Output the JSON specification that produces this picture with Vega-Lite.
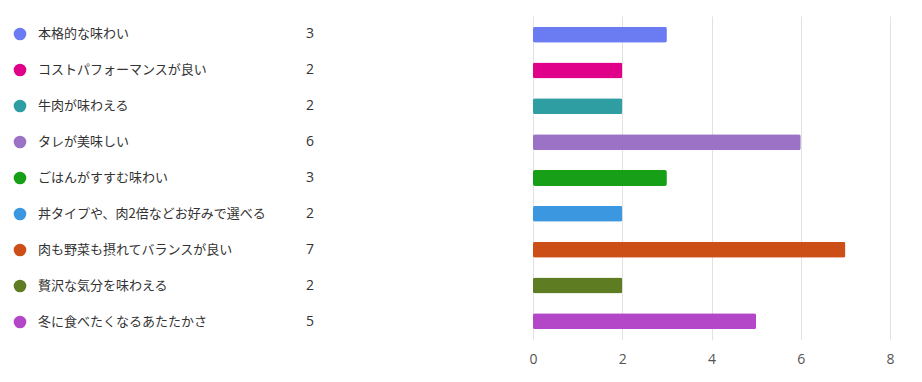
{
  "$schema": "https://vega.github.io/schema/vega-lite/v6.json",
  "padding": {"top": 16, "left": 0, "right": 0, "bottom": 0},
  "background": "#ffffff",
  "config": {"view": {"stroke": null}, "font": "Noto Sans CJK JP"},
  "data": {"values": [
    {"item": "本格的な味わい", "count": 3, "color": "#6B7BF2"},
    {"item": "コストパフォーマンスが良い", "count": 2, "color": "#E0008A"},
    {"item": "牛肉が味わえる", "count": 2, "color": "#2E9EA2"},
    {"item": "タレが美味しい", "count": 6, "color": "#9B72C6"},
    {"item": "ごはんがすすむ味わい", "count": 3, "color": "#17A017"},
    {"item": "丼タイプや、肉2倍などお好みで選べる", "count": 2, "color": "#3B97E0"},
    {"item": "肉も野菜も摂れてバランスが良い", "count": 7, "color": "#CC4F18"},
    {"item": "贅沢な気分を味わえる", "count": 2, "color": "#5E7D22"},
    {"item": "冬に食べたくなるあたたかさ", "count": 5, "color": "#B447C7"}
  ]},
  "hconcat": [
    {
      "width": 330,
      "height": 324,
      "encoding": {
        "y": {"field": "item", "type": "nominal", "sort": null, "axis": null,
              "scale": {"paddingInner": 0.5, "paddingOuter": 0.27}}
      },
      "layer": [
        {
          "mark": {"type": "circle", "size": 160, "opacity": 1},
          "encoding": {
            "x": {"datum": 20, "type": "quantitative", "scale": {"domain": [0, 330], "nice": false, "zero": false}, "axis": null},
            "color": {"field": "color", "type": "nominal", "scale": null}
          }
        },
        {
          "mark": {"type": "text", "align": "left", "baseline": "middle", "fontSize": 13, "color": "#333333"},
          "encoding": {
            "x": {"datum": 38, "type": "quantitative"},
            "text": {"field": "item"}
          }
        },
        {
          "mark": {"type": "text", "align": "right", "baseline": "middle", "fontSize": 14, "color": "#333333", "font": "Open Sans"},
          "encoding": {
            "x": {"datum": 314, "type": "quantitative"},
            "text": {"field": "count"}
          }
        }
      ]
    },
    {
      "width": 357,
      "height": 324,
      "mark": {"type": "bar", "size": 16, "cornerRadius": 2},
      "encoding": {
        "y": {"field": "item", "type": "nominal", "sort": null, "axis": null,
              "scale": {"paddingInner": 0.5, "paddingOuter": 0.27}},
        "x": {"field": "count", "type": "quantitative",
              "scale": {"domain": [0, 8], "nice": false},
              "axis": {"values": [0, 2, 4, 6, 8], "title": null, "domain": false, "ticks": false,
                       "grid": true, "gridColor": "#e2e2e2", "labelFontSize": 14, "labelColor": "#555555",
                       "labelFont": "Open Sans", "labelPadding": 12, "labelFlush": false, "labelOverlap": false}},
        "color": {"field": "color", "type": "nominal", "scale": null}
      }
    }
  ],
  "spacing": 198
}
